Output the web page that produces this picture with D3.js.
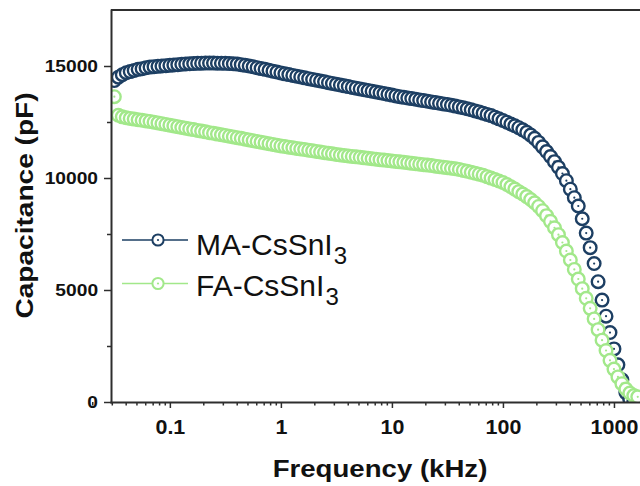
<!DOCTYPE html>
<html>
<head>
<meta charset="utf-8">
<script src="https://cdn.jsdelivr.net/npm/d3@7"></script>
<style>
  html, body { margin: 0; padding: 0; background: #fff; }
  svg { display: block; }
</style>
</head>
<body>
<svg id="chart" width="640" height="486"></svg>
<script>
// Measurement frequencies (kHz), 28 points per decade
const freqKHz = [
  0.031623, 0.034333, 0.037276, 0.040470, 0.043940, 0.047705, 0.051795, 0.056234, 0.061054, 0.066287, 0.071969, 0.078138, 0.084834, 0.092105,
  0.1, 0.10857, 0.11788, 0.12798, 0.13895, 0.15085, 0.16379, 0.17783, 0.19307, 0.20962, 0.22758, 0.24709, 0.26827, 0.29126,
  0.31623, 0.34333, 0.37276, 0.40470, 0.43940, 0.47705, 0.51795, 0.56234, 0.61054, 0.66287, 0.71969, 0.78138, 0.84834, 0.92105,
  1, 1.0857, 1.1788, 1.2798, 1.3895, 1.5085, 1.6379, 1.7783, 1.9307, 2.0962, 2.2758, 2.4709, 2.6827, 2.9126,
  3.1623, 3.4333, 3.7276, 4.0470, 4.3940, 4.7705, 5.1795, 5.6234, 6.1054, 6.6287, 7.1969, 7.8138, 8.4834, 9.2105,
  10, 10.857, 11.788, 12.798, 13.895, 15.085, 16.379, 17.783, 19.307, 20.962, 22.758, 24.709, 26.827, 29.126,
  31.623, 34.333, 37.276, 40.470, 43.940, 47.705, 51.795, 56.234, 61.054, 66.287, 71.969, 78.138, 84.834, 92.105,
  100, 108.57, 117.88, 127.98, 138.95, 150.85, 163.79, 177.83, 193.07, 209.62, 227.58, 247.09, 268.27, 291.26,
  316.23, 343.33, 372.76, 404.70, 439.40, 477.05, 517.95, 562.34, 610.54, 662.87, 719.69, 781.38, 848.34, 921.05,
  1000, 1085.7, 1178.8, 1279.8, 1389.5, 1508.5, 1637.9
];

// Capacitance (pF) of the MA-CsSnI3 device
const capMA = [
  14350, 14500, 14610, 14700, 14750, 14800, 14850, 14880, 14920, 14950, 14970, 14985, 15000, 15015,
  15030, 15045, 15060, 15075, 15090, 15100, 15110, 15118, 15125, 15130, 15132, 15130, 15128, 15122,
  15118, 15110, 15100, 15085, 15060, 15030, 15000, 14965, 14925, 14885, 14850, 14810, 14770, 14730,
  14690, 14650, 14615, 14580, 14545, 14510, 14470, 14435, 14400, 14365, 14330, 14295, 14255, 14220,
  14185, 14150, 14115, 14080, 14045, 14010, 13975, 13940, 13905, 13875, 13840, 13805, 13770, 13735,
  13700, 13665, 13630, 13600, 13570, 13545, 13515, 13485, 13455, 13425, 13395, 13365, 13335, 13305,
  13280, 13245, 13210, 13175, 13135, 13090, 13045, 12995, 12950, 12895, 12840, 12785, 12715, 12640,
  12565, 12490, 12410, 12330, 12245, 12150, 12040, 11915, 11770, 11590, 11390, 11180, 10960, 10730,
  10480, 10200, 9880, 9500, 9120, 8750, 8180, 7540, 6890, 6180, 5370, 4550, 3830, 3100,
  2370, 1660, 990, 420, 120, 30, 10
];

// Capacitance (pF) of the FA-CsSnI3 device
const capFA = [
  13630, 12800, 12730, 12690, 12660, 12630, 12600, 12575, 12550, 12525, 12490, 12460, 12425, 12390,
  12360, 12325, 12290, 12255, 12225, 12190, 12160, 12125, 12095, 12060, 12025, 11995, 11960, 11930,
  11900, 11865, 11835, 11800, 11770, 11735, 11700, 11665, 11635, 11600, 11565, 11530, 11500, 11465,
  11430, 11405, 11375, 11350, 11320, 11295, 11270, 11240, 11215, 11185, 11160, 11130, 11105, 11080,
  11050, 11025, 11005, 10985, 10965, 10945, 10925, 10900, 10880, 10860, 10840, 10820, 10800, 10780,
  10760, 10740, 10720, 10700, 10680, 10655, 10635, 10615, 10595, 10575, 10555, 10530, 10505, 10480,
  10460, 10435, 10410, 10385, 10340, 10300, 10255, 10210, 10170, 10125, 10060, 9995, 9930, 9865,
  9800, 9710, 9610, 9505, 9390, 9285, 9170, 9040, 8895, 8730, 8540, 8320, 8065, 7780,
  7470, 7120, 6740, 6340, 5920, 5490, 5060, 4630, 4180, 3710, 3230, 2760, 2300, 1860,
  1470, 1120, 820, 580, 400, 290, 230
];

const seriesLabels = ["MA-CsSnI", "FA-CsSnI"];
const seriesSub = ["3", "3"];
const seriesColors = ["#1d3f63", "#a2e88a"];

const xMajorTicks = [0.1, 1, 10, 100, 1000];
const xTickLabels = ["0.1", "1", "10", "100", "1000"];
const yMajorTicks = [0, 5000, 10000, 15000];
const yTickLabels = ["0", "5000", "10000", "15000"];
const yMinorTicks = [2500, 7500, 12500];

const xTitle = "Frequency (kHz)";
const yTitle = "Capacitance (pF)";

(function draw() {
  // Minor log ticks: 2..9 within each decade
  const xMinorTicks = [];
  [0.01, 0.1, 1, 10, 100].forEach(d => {
    for (let m = 2; m <= 9; m++) xMinorTicks.push(+(m * d).toPrecision(3));
  });

  const FONT = '"Liberation Sans", Arial, Helvetica, sans-serif';
  const AXIS_COLOR = "#2e2e2e";

  const svg = d3.select("#chart");
  const plotLeft = 111, plotTop = 10, plotBottom = 402, plotRight = 642.3;

  const x = d3.scaleLog().domain([0.0295, 1800]).range([plotLeft, plotRight]);
  const y = d3.scaleLinear().domain([0, 17500]).range([plotBottom, plotTop]);

  svg.append("rect").attr("width", 640).attr("height", 486).attr("fill", "#fff");

  svg.append("defs").append("clipPath").attr("id", "plotClip")
    .append("rect").attr("x", plotLeft).attr("y", plotTop)
    .attr("width", plotRight - plotLeft).attr("height", plotBottom - plotTop);

  // Data markers: open circles with a centre dot, white fill
  const plot = svg.append("g").attr("clip-path", "url(#plotClip)");
  [capMA, capFA].forEach((vals, si) => {
    const g = plot.append("g");
    const pts = freqKHz.map((f, i) => ({ f, v: vals[i] }));
    const pt = g.selectAll("g.pt").data(pts).enter().append("g")
      .attr("transform", d => `translate(${x(d.f)},${y(d.v)})`);
    pt.append("circle").attr("r", 6.3)
      .attr("fill", "#fff").attr("stroke", seriesColors[si]).attr("stroke-width", 2.4);
    pt.append("circle").attr("r", 1.1).attr("fill", seriesColors[si]);
  });

  // Axes
  const xMinorG = svg.append("g").attr("transform", `translate(0,${plotBottom})`);
  xMinorG.call(d3.axisBottom(x).tickValues(xMinorTicks).tickSizeInner(3.5).tickSizeOuter(0).tickFormat(""));
  xMinorG.select(".domain").remove();
  const xMajorG = svg.append("g").attr("transform", `translate(0,${plotBottom})`);
  xMajorG.call(d3.axisBottom(x).tickValues(xMajorTicks).tickSizeInner(6).tickSizeOuter(0)
    .tickFormat((d, i) => xTickLabels[i]));

  const yMinorG = svg.append("g").attr("transform", `translate(${plotLeft},0)`);
  yMinorG.call(d3.axisLeft(y).tickValues(yMinorTicks).tickSizeInner(4).tickSizeOuter(0).tickFormat(""));
  yMinorG.select(".domain").remove();
  const yMajorG = svg.append("g").attr("transform", `translate(${plotLeft},0)`);
  yMajorG.call(d3.axisLeft(y).tickValues(yMajorTicks).tickSizeInner(7).tickSizeOuter(0)
    .tickFormat((d, i) => yTickLabels[i]));

  svg.selectAll(".domain").attr("stroke", AXIS_COLOR).attr("stroke-width", 2).attr("stroke-linecap", "square");
  svg.selectAll(".tick line").attr("stroke", AXIS_COLOR).attr("stroke-width", 1.5);

  xMajorG.selectAll(".tick text")
    .attr("y", 32).attr("dy", 0)
    .attr("transform", "scale(1.1,1)")
    .attr("fill", "#111").attr("font-family", FONT).attr("font-weight", "bold").attr("font-size", 19.5);

  yMajorG.selectAll(".tick text")
    .attr("x", -10.8).attr("dy", "0.36em")
    .attr("transform", "scale(1.2,1)")
    .attr("fill", "#111").attr("font-family", FONT).attr("font-weight", "bold").attr("font-size", 16);

  // Top frame line
  svg.append("line")
    .attr("x1", x.range()[0]).attr("x2", x.range()[1])
    .attr("y1", y(17500)).attr("y2", y(17500))
    .attr("stroke", AXIS_COLOR).attr("stroke-width", 2);

  // Axis titles
  svg.append("text")
    .attr("transform", "translate(380,477) scale(1.15,1)")
    .attr("text-anchor", "middle")
    .attr("font-family", FONT).attr("font-weight", "bold").attr("font-size", 24).attr("fill", "#111")
    .text(xTitle);

  svg.append("text")
    .attr("transform", "translate(33,205.5) rotate(-90) scale(1.17,1)")
    .attr("text-anchor", "middle")
    .attr("font-family", FONT).attr("font-weight", "bold").attr("font-size", 24).attr("fill", "#111")
    .text(yTitle);

  // Legend
  const legendRows = [
    { lineY: 240, textY: 255 },
    { lineY: 283.5, textY: 295.5 }
  ];
  seriesLabels.forEach((name, si) => {
    const r = legendRows[si];
    const g = svg.append("g");
    g.append("line").attr("x1", 122).attr("x2", 188).attr("y1", r.lineY).attr("y2", r.lineY)
      .attr("stroke", seriesColors[si]).attr("stroke-width", 1.5);
    g.append("circle").attr("cx", 158).attr("cy", r.lineY).attr("r", 5.6)
      .attr("fill", "#fff").attr("stroke", seriesColors[si]).attr("stroke-width", 2);
    g.append("circle").attr("cx", 158).attr("cy", r.lineY).attr("r", 1.1).attr("fill", seriesColors[si]);
    const t = g.append("text").attr("x", 196).attr("y", r.textY)
      .attr("font-family", FONT).attr("font-size", 30).attr("fill", "#111");
    t.append("tspan").text(name);
    t.append("tspan").attr("dx", 1).attr("dy", 9).attr("font-size", 24).text(seriesSub[si]);
  });
})();
</script>
</body>
</html>
